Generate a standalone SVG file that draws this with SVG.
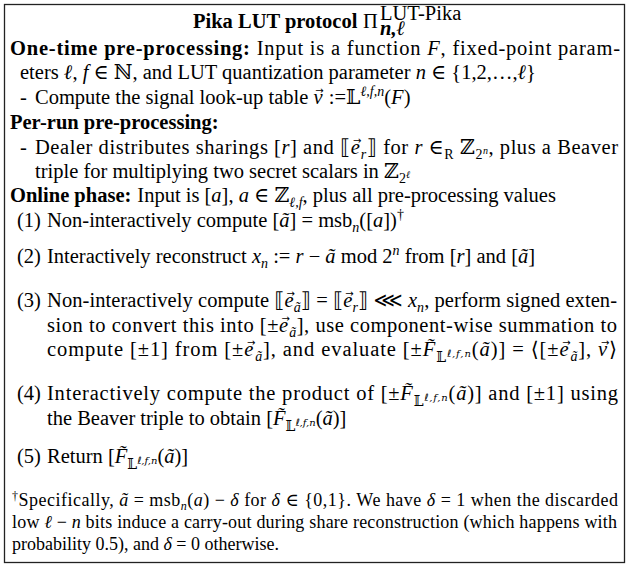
<svg xmlns="http://www.w3.org/2000/svg" width="629" height="569" viewBox="0 0 629 569">
<style>
text{font-family:"Liberation Serif","DejaVu Serif",serif;font-size:20.5px;fill:#000}
.b{font-weight:bold}
.i{font-style:italic}
.s{font-family:"DejaVu Serif","DejaVu Sans",serif;font-style:normal}
.ar{font-family:"DejaVu Sans",sans-serif;font-size:10px;font-style:normal}
.sb{font-size:14px}
.ss{font-size:10px}
.fn{font-size:18px}
.fsb{font-size:12px}
</style>
<rect x="4.5" y="4.5" width="620" height="558" fill="#fff" stroke="#222" stroke-width="1.3"/>
<g id="title">
<text x="193" y="28" class="b">Pika LUT protocol</text>
<text x="363" y="28">Π</text>
<text x="380" y="20" font-size="13">LUT-Pika</text>
<text x="380" y="35" font-size="13" class="b i">n,ℓ</text>
</g>
<g id="one-time">
<text x="10" y="55" textLength="610"><tspan class="b">One-time pre-processing:</tspan><tspan dx="6">Input is a function </tspan><tspan class="i">F</tspan>, fixed-point param-</text>
<text x="20" y="79">eters <tspan class="i">ℓ</tspan>, <tspan class="i">f</tspan> ∈ <tspan class="s">ℕ</tspan>, and LUT quantization parameter <tspan class="i">n</tspan> ∈ {1,2,…,<tspan class="i">ℓ</tspan>}</text>
<text x="20" y="104">-</text>
<text x="35" y="104">Compute the signal look-up table <tspan class="i">v</tspan><tspan class="ar" dx="-7.2" baseline-shift="10">→</tspan><tspan dx="0"> :=</tspan><tspan class="s">𝕃</tspan><tspan class="sb i" baseline-shift="8">ℓ,f,n</tspan>(<tspan class="i">F</tspan>)</text>
</g>
<g id="per-run">
<text x="10" y="129" class="b">Per-run pre-processing:</text>
<text x="20" y="154">-</text>
<text x="35" y="154" textLength="583">Dealer distributes sharings [<tspan class="i">r</tspan>] and <tspan class="s">⟦</tspan><tspan class="i">e</tspan><tspan class="ar" dx="-7.2" baseline-shift="10">→</tspan><tspan class="sb i" dx="-1.2" baseline-shift="-5">r</tspan><tspan class="s">⟧</tspan> for <tspan class="i">r</tspan> ∈<tspan class="sb" baseline-shift="-5">R</tspan> <tspan class="s">ℤ</tspan><tspan class="sb" baseline-shift="-5">2<tspan class="ss i" baseline-shift="5">n</tspan></tspan>, plus a Beaver</text>
<text x="35" y="178">triple for multiplying two secret scalars in <tspan class="s">ℤ</tspan><tspan class="sb" baseline-shift="-5">2<tspan class="ss i" baseline-shift="5">ℓ</tspan></tspan></text>
</g>
<g id="online">
<text x="10" y="202"><tspan class="b">Online phase:</tspan><tspan dx="6">Input is [</tspan><tspan class="i">a</tspan>], <tspan class="i">a</tspan> ∈ <tspan class="s">ℤ</tspan><tspan class="sb i" baseline-shift="-5">ℓ,f</tspan>, plus all pre-processing values</text>
<text x="17" y="227">(1)</text>
<text x="47" y="227">Non-interactively compute [<tspan class="i">ã</tspan>] = msb<tspan class="sb i" baseline-shift="-5">n</tspan>([<tspan class="i">a</tspan>])<tspan class="sb" baseline-shift="8">†</tspan></text>
<text x="17" y="263">(2)</text>
<text x="47" y="263">Interactively reconstruct <tspan class="i">x</tspan><tspan class="sb i" baseline-shift="-5">n</tspan> := <tspan class="i">r</tspan> − <tspan class="i">ã</tspan> mod 2<tspan class="sb i" baseline-shift="8">n</tspan> from [<tspan class="i">r</tspan>] and [<tspan class="i">ã</tspan>]</text>
<text x="17" y="307">(3)</text>
<text x="47" y="307" textLength="570">Non-interactively compute <tspan class="s">⟦</tspan><tspan class="i">e</tspan><tspan class="ar" dx="-7.2" baseline-shift="10">→</tspan><tspan class="sb i" dx="-1.2" baseline-shift="-5">ã</tspan><tspan class="s">⟧</tspan> = <tspan class="s">⟦</tspan><tspan class="i">e</tspan><tspan class="ar" dx="-7.2" baseline-shift="10">→</tspan><tspan class="sb i" dx="-1.2" baseline-shift="-5">r</tspan><tspan class="s">⟧</tspan> <tspan class="s">⋘</tspan> <tspan class="i">x</tspan><tspan class="sb i" baseline-shift="-5">n</tspan>, perform signed exten-</text>
<text x="47" y="332" textLength="570">sion to convert this into [±<tspan class="i">e</tspan><tspan class="ar" dx="-7.2" baseline-shift="10">→</tspan><tspan class="sb i" dx="-1.2" baseline-shift="-5">ã</tspan>], use component-wise summation to</text>
<text x="47" y="356" textLength="570">compute [±1] from [±<tspan class="i">e</tspan><tspan class="ar" dx="-7.2" baseline-shift="10">→</tspan><tspan class="sb i" dx="-1.2" baseline-shift="-5">ã</tspan>], and evaluate [±<tspan class="i">F&#x303;</tspan><tspan class="sb s" baseline-shift="-6">𝕃<tspan class="ss i" baseline-shift="5">ℓ,f,n</tspan></tspan>(<tspan class="i">ã</tspan>)] = <tspan class="s">⟨</tspan>[±<tspan class="i">e</tspan><tspan class="ar" dx="-7.2" baseline-shift="10">→</tspan><tspan class="sb i" dx="-1.2" baseline-shift="-5">ã</tspan>], <tspan class="i">v</tspan><tspan class="ar" dx="-7.2" baseline-shift="10">→</tspan><tspan class="s" dx="-1.2">⟩</tspan></text>
<text x="17" y="400">(4)</text>
<text x="47" y="400" textLength="571">Interactively compute the product of [±<tspan class="i">F&#x303;</tspan><tspan class="sb s" baseline-shift="-6">𝕃<tspan class="ss i" baseline-shift="5">ℓ,f,n</tspan></tspan>(<tspan class="i">ã</tspan>)] and [±1] using</text>
<text x="47" y="425">the Beaver triple to obtain [<tspan class="i">F&#x303;</tspan><tspan class="sb s" baseline-shift="-6">𝕃<tspan class="ss i" baseline-shift="5">ℓ,f,n</tspan></tspan>(<tspan class="i">ã</tspan>)]</text>
<text x="17" y="463">(5)</text>
<text x="47" y="463">Return [<tspan class="i">F&#x303;</tspan><tspan class="sb s" baseline-shift="-6">𝕃<tspan class="ss i" baseline-shift="5">ℓ,f,n</tspan></tspan>(<tspan class="i">ã</tspan>)]</text>
</g>
<g id="footnote">
<text x="12" y="506" class="fn" textLength="606"><tspan class="fsb" baseline-shift="6">†</tspan>Specifically, <tspan class="i">ã</tspan> = msb<tspan class="fsb i" baseline-shift="-4">n</tspan>(<tspan class="i">a</tspan>) − <tspan class="i">δ</tspan> for <tspan class="i">δ</tspan> ∈ {0,1}. We have <tspan class="i">δ</tspan> = 1 when  the discarded</text>
<text x="12" y="528" class="fn" textLength="605">low <tspan class="i">ℓ</tspan> − <tspan class="i">n</tspan> bits induce a carry-out during share reconstruction (which happens with</text>
<text x="12" y="550" class="fn">probability 0.5), and <tspan class="i">δ</tspan> = 0 otherwise.</text>
</g>
</svg>
